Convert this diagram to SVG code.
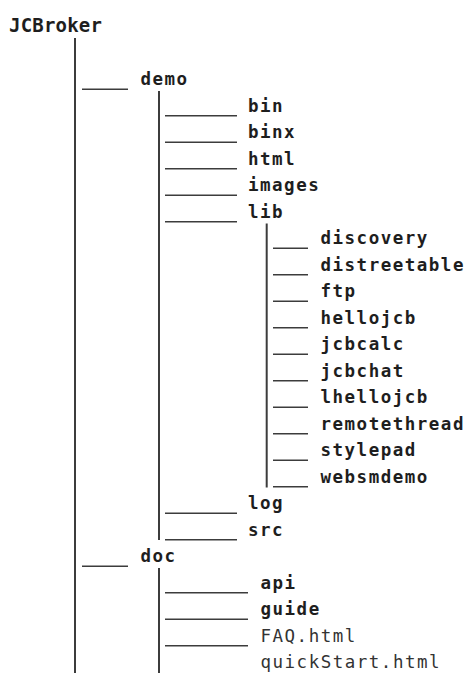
<svg xmlns="http://www.w3.org/2000/svg" width="468" height="673" viewBox="0 0 468 673">
<style>
text{font-family:"DejaVu Sans Mono","Liberation Mono",monospace;font-size:17.5px;letter-spacing:1.5px;fill:#1e1e1e;font-weight:bold}
.root{font-size:19px;letter-spacing:0.2px}
.file{font-weight:normal;fill:#333}
.c line{stroke:#3c3c3c;stroke-width:2;fill:none}
.c .u{stroke-width:1.6}
</style>
<rect width="468" height="673" fill="#fff"/>
<g class="c" id="connectors">
<line x1="75" y1="38" x2="75" y2="673"/>
<line class="u" x1="82" y1="89.3" x2="128" y2="89.3"/>
<line class="u" x1="82" y1="566.3" x2="128" y2="566.3"/>
<line x1="159" y1="91" x2="159" y2="540"/>
<line x1="159" y1="568" x2="159" y2="673"/>
<line class="u" x1="165" y1="115.8" x2="237" y2="115.8"/>
<line class="u" x1="165" y1="142.3" x2="237" y2="142.3"/>
<line class="u" x1="165" y1="168.8" x2="237" y2="168.8"/>
<line class="u" x1="165" y1="195.3" x2="237" y2="195.3"/>
<line class="u" x1="165" y1="221.8" x2="237" y2="221.8"/>
<line class="u" x1="165" y1="513.3" x2="237" y2="513.3"/>
<line class="u" x1="165" y1="539.8" x2="237" y2="539.8"/>
<line x1="266.7" y1="223.5" x2="266.7" y2="487.5"/>
<line class="u" x1="273" y1="248.3" x2="308" y2="248.3"/>
<line class="u" x1="273" y1="274.8" x2="308" y2="274.8"/>
<line class="u" x1="273" y1="301.3" x2="308" y2="301.3"/>
<line class="u" x1="273" y1="327.8" x2="308" y2="327.8"/>
<line class="u" x1="273" y1="354.3" x2="308" y2="354.3"/>
<line class="u" x1="273" y1="380.8" x2="308" y2="380.8"/>
<line class="u" x1="273" y1="407.3" x2="308" y2="407.3"/>
<line class="u" x1="273" y1="433.8" x2="308" y2="433.8"/>
<line class="u" x1="273" y1="460.3" x2="308" y2="460.3"/>
<line class="u" x1="273" y1="486.8" x2="308" y2="486.8"/>
<line class="u" x1="165" y1="592.8" x2="248" y2="592.8"/>
<line class="u" x1="165" y1="619.3" x2="248" y2="619.3"/>
<line class="u" x1="165" y1="645.8" x2="248" y2="645.8"/>
</g>
<g id="n-JCBroker"><text class="root" x="9" y="32">JCBroker</text></g>
<g id="n-demo"><text x="140.5" y="85">demo</text></g>
<g id="n-bin"><text x="248" y="111.5">bin</text></g>
<g id="n-binx"><text x="248" y="138">binx</text></g>
<g id="n-html"><text x="248" y="164.5">html</text></g>
<g id="n-images"><text x="248" y="191">images</text></g>
<g id="n-lib"><text x="248" y="217.5">lib</text></g>
<g id="n-discovery"><text x="320.5" y="244">discovery</text></g>
<g id="n-distreetable"><text x="320.5" y="270.5">distreetable</text></g>
<g id="n-ftp"><text x="320.5" y="297">ftp</text></g>
<g id="n-hellojcb"><text x="320.5" y="323.5">hellojcb</text></g>
<g id="n-jcbcalc"><text x="320.5" y="350">jcbcalc</text></g>
<g id="n-jcbchat"><text x="320.5" y="376.5">jcbchat</text></g>
<g id="n-lhellojcb"><text x="320.5" y="403">lhellojcb</text></g>
<g id="n-remotethread"><text x="320.5" y="429.5">remotethread</text></g>
<g id="n-stylepad"><text x="320.5" y="456">stylepad</text></g>
<g id="n-websmdemo"><text x="320.5" y="482.5">websmdemo</text></g>
<g id="n-log"><text x="248" y="509">log</text></g>
<g id="n-src"><text x="248" y="535.5">src</text></g>
<g id="n-doc"><text x="140.5" y="562">doc</text></g>
<g id="n-api"><text x="260.5" y="588.5">api</text></g>
<g id="n-guide"><text x="260.5" y="615">guide</text></g>
<g id="n-FAQ"><text class="file" x="260.5" y="641.5">FAQ.html</text></g>
<g id="n-quickStart"><text class="file" x="260.5" y="668">quickStart.html</text></g>
</svg>
